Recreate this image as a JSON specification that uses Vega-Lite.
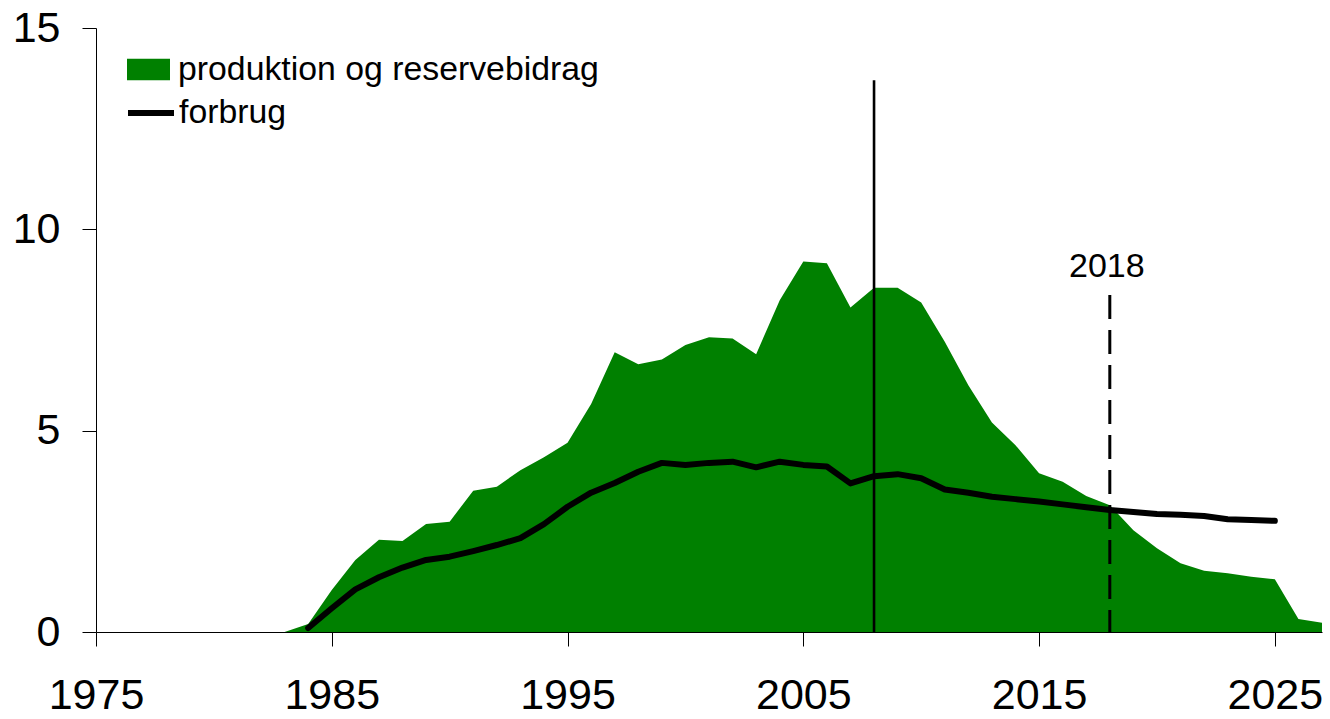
{
  "$schema": "https://vega.github.io/schema/vega-lite/v6.json",
  "autosize": "none",
  "width": 1226,
  "height": 604,
  "padding": {"left": 96, "top": 28, "right": 8, "bottom": 87},
  "background": "white",
  "config": {
    "view": {"stroke": null},
    "font": "Liberation Sans",
    "axis": {
      "grid": false,
      "domainColor": "#000000",
      "domainWidth": 1,
      "tickColor": "#000000",
      "tickWidth": 1,
      "tickSize": 14,
      "labelColor": "#000000",
      "labelFont": "Liberation Sans",
      "labelFontSize": 43,
      "title": null,
      "labelOverlap": false,
      "labelFlush": false
    },
    "legend": {
      "labelFont": "Liberation Sans",
      "labelFontSize": 33.8,
      "labelColor": "#000000",
      "labelLimit": 1000,
      "padding": 0,
      "title": null
    }
  },
  "datasets": {
    "main": [
      {"year": 1983, "prod": 0, "forbrug": null},
      {"year": 1984, "prod": 0.2, "forbrug": 0.1},
      {"year": 1985, "prod": 1.04, "forbrug": 0.59},
      {"year": 1986, "prod": 1.79, "forbrug": 1.06},
      {"year": 1987, "prod": 2.29, "forbrug": 1.36},
      {"year": 1988, "prod": 2.26, "forbrug": 1.6},
      {"year": 1989, "prod": 2.68, "forbrug": 1.79},
      {"year": 1990, "prod": 2.74, "forbrug": 1.87},
      {"year": 1991, "prod": 3.51, "forbrug": 2.01},
      {"year": 1992, "prod": 3.61, "forbrug": 2.16},
      {"year": 1993, "prod": 4.02, "forbrug": 2.33},
      {"year": 1994, "prod": 4.34, "forbrug": 2.68},
      {"year": 1995, "prod": 4.7, "forbrug": 3.11},
      {"year": 1996, "prod": 5.66, "forbrug": 3.46},
      {"year": 1997, "prod": 6.95, "forbrug": 3.7},
      {"year": 1998, "prod": 6.65, "forbrug": 3.98},
      {"year": 1999, "prod": 6.77, "forbrug": 4.2},
      {"year": 2000, "prod": 7.13, "forbrug": 4.15},
      {"year": 2001, "prod": 7.32, "forbrug": 4.2},
      {"year": 2002, "prod": 7.29, "forbrug": 4.23},
      {"year": 2003, "prod": 6.9, "forbrug": 4.09},
      {"year": 2004, "prod": 8.24, "forbrug": 4.23},
      {"year": 2005, "prod": 9.2, "forbrug": 4.15},
      {"year": 2006, "prod": 9.16, "forbrug": 4.11},
      {"year": 2007, "prod": 8.06, "forbrug": 3.69},
      {"year": 2008, "prod": 8.55, "forbrug": 3.87},
      {"year": 2009, "prod": 8.55, "forbrug": 3.92},
      {"year": 2010, "prod": 8.18, "forbrug": 3.82},
      {"year": 2011, "prod": 7.21, "forbrug": 3.54},
      {"year": 2012, "prod": 6.13, "forbrug": 3.46},
      {"year": 2013, "prod": 5.2, "forbrug": 3.36},
      {"year": 2014, "prod": 4.64, "forbrug": 3.3},
      {"year": 2015, "prod": 3.94, "forbrug": 3.24},
      {"year": 2016, "prod": 3.73, "forbrug": 3.17},
      {"year": 2017, "prod": 3.38, "forbrug": 3.1},
      {"year": 2018, "prod": 3.15, "forbrug": 3.03},
      {"year": 2019, "prod": 2.53, "forbrug": 2.98},
      {"year": 2020, "prod": 2.08, "forbrug": 2.93},
      {"year": 2021, "prod": 1.71, "forbrug": 2.91},
      {"year": 2022, "prod": 1.52, "forbrug": 2.88},
      {"year": 2023, "prod": 1.46, "forbrug": 2.8},
      {"year": 2024, "prod": 1.37, "forbrug": 2.78},
      {"year": 2025, "prod": 1.31, "forbrug": 2.76},
      {"year": 2026, "prod": 0.32, "forbrug": null},
      {"year": 2027, "prod": 0.23, "forbrug": null}
    ],
    "markers": [
      {"year": 2008, "top": 13.7, "bottom": 0, "kind": "solid", "label": ""},
      {"year": 2018, "top": 8.37, "bottom": 0, "kind": "dashed", "label": "2018"}
    ]
  },
  "layer": [
    {
      "data": {"name": "main"},
      "mark": {"type": "area", "opacity": 1, "interpolate": "linear"},
      "encoding": {
        "x": {
          "field": "year", "type": "quantitative",
          "scale": {"domain": [1975, 2027], "nice": false, "zero": false},
          "axis": {"values": [1975, 1985, 1995, 2005, 2015, 2025], "format": "d", "labelPadding": 28}
        },
        "y": {
          "field": "prod", "type": "quantitative",
          "scale": {"domain": [0, 15], "nice": false},
          "axis": {"values": [0, 5, 10, 15], "format": "d", "labelPadding": 22}
        },
        "fill": {
          "datum": "produktion og reservebidrag",
          "scale": {"domain": ["produktion og reservebidrag"], "range": ["#008000"]},
          "legend": {
            "orient": "none", "legendX": 31, "legendY": 20,
            "symbolType": "M-1,-0.5H1V0.5H-1Z", "symbolSize": 1849,
            "symbolStrokeWidth": 0, "symbolOpacity": 1, "labelOffset": 8
          }
        }
      }
    },
    {
      "data": {"name": "main"},
      "transform": [{"filter": "datum.forbrug != null"}],
      "mark": {"type": "line", "strokeWidth": 6, "strokeCap": "round", "strokeJoin": "round"},
      "encoding": {
        "x": {"field": "year", "type": "quantitative"},
        "y": {"field": "forbrug", "type": "quantitative"},
        "stroke": {
          "datum": "forbrug",
          "scale": {"domain": ["forbrug"], "range": ["#000000"]},
          "legend": {
            "orient": "none", "legendX": 29, "legendY": 59,
            "symbolType": "stroke", "symbolSize": 2116, "symbolStrokeWidth": 6, "labelOffset": 2
          }
        }
      }
    },
    {
      "data": {"name": "markers"},
      "transform": [{"filter": "datum.kind == 'solid'"}],
      "mark": {"type": "rule", "color": "#000000", "strokeWidth": 2.6},
      "encoding": {
        "x": {"field": "year", "type": "quantitative"},
        "y": {"field": "top", "type": "quantitative"},
        "y2": {"field": "bottom"}
      }
    },
    {
      "data": {"name": "markers"},
      "transform": [{"filter": "datum.kind == 'dashed'"}],
      "mark": {"type": "rule", "color": "#000000", "strokeWidth": 3, "strokeDash": [24, 11]},
      "encoding": {
        "x": {"field": "year", "type": "quantitative"},
        "y": {"field": "top", "type": "quantitative"},
        "y2": {"field": "bottom"}
      }
    },
    {
      "data": {"name": "markers"},
      "transform": [{"filter": "datum.kind == 'dashed'"}],
      "mark": {"type": "text", "font": "Liberation Sans", "fontSize": 34, "color": "#000000", "baseline": "alphabetic", "align": "center", "dx": -3, "dy": -18},
      "encoding": {
        "x": {"field": "year", "type": "quantitative"},
        "y": {"field": "top", "type": "quantitative"},
        "text": {"field": "label"}
      }
    }
  ]
}
